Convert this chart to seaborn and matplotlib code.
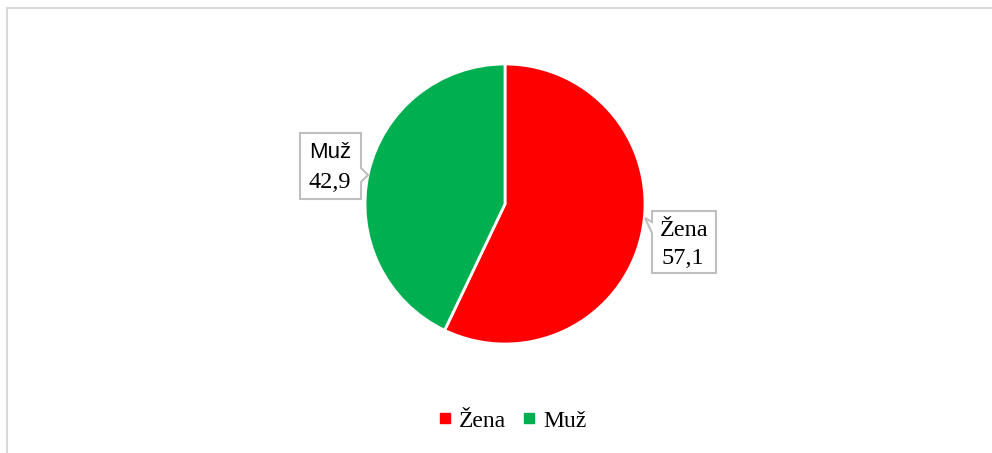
import matplotlib
matplotlib.use("Agg")
import matplotlib.pyplot as plt
import seaborn as sns
from matplotlib.patches import Polygon
from matplotlib.lines import Line2D

labels = ["Žena", "Muž"]
values = [57.1, 42.9]
value_text = ["57,1", "42,9"]
colors = ["#FF0000", "#00B050"]

W, H = 992, 453


def fx(x):
    return x / W


def fy(y):
    return 1 - y / H


sns.set_theme(style="white")
plt.rcParams['font.family'] = ['Liberation Serif', 'DejaVu Serif']
plt.rcParams['text.color'] = 'black'

fig = plt.figure(figsize=(W / 100, H / 100), dpi=100)
fig.patch.set_facecolor("white")

# chart border (light gray, top and left visible)
fig.add_artist(Line2D([fx(7), fx(7), fx(992)], [fy(453), fy(8), fy(8)],
                      color="#D9D9D9", lw=1.5))

ax = fig.add_axes([fx(365), fy(344), 280 / W, 280 / H])
wedges, _ = ax.pie(values, colors=sns.color_palette(colors), startangle=90,
                   counterclock=False,
                   wedgeprops=dict(edgecolor="white", linewidth=2))
ax.set_xlim(-1, 1)
ax.set_ylim(-1, 1)
ax.axis("off")

# callout boxes
muz_box = [(300, 133), (361, 133), (361, 168), (368, 175), (361, 182),
           (361, 199), (300, 199)]
zena_box = [(652, 211), (716, 211), (716, 273), (652, 273), (652, 233),
            (645, 218), (652, 222)]
for pts in (muz_box, zena_box):
    fig.add_artist(Polygon([(fx(x), fy(y)) for x, y in pts], closed=True,
                           facecolor="white", edgecolor="#BFBFBF", lw=1.5,
                           transform=fig.transFigure))

fig.text(fx(330), fy(152), labels[1], ha="center", va="center", fontsize=16,
         family=["Liberation Sans", "DejaVu Sans"])
fig.text(fx(330), fy(182), value_text[1], ha="center", va="center", fontsize=17.5)
fig.text(fx(684), fy(230), labels[0], ha="center", va="center", fontsize=17.5)
fig.text(fx(683), fy(258), value_text[0], ha="center", va="center", fontsize=17.5)

handles = [Line2D([], [], marker="s", linestyle="", markersize=6.5,
                  markerfacecolor=c, markeredgecolor=c) for c in colors]
fig.legend(handles, labels, loc="center", bbox_to_anchor=(fx(511), fy(421)),
           ncol=2, frameon=False, fontsize=17, handletextpad=0.2,
           columnspacing=0.6, handlelength=0.8)

fig.savefig("out.png", dpi=100)
